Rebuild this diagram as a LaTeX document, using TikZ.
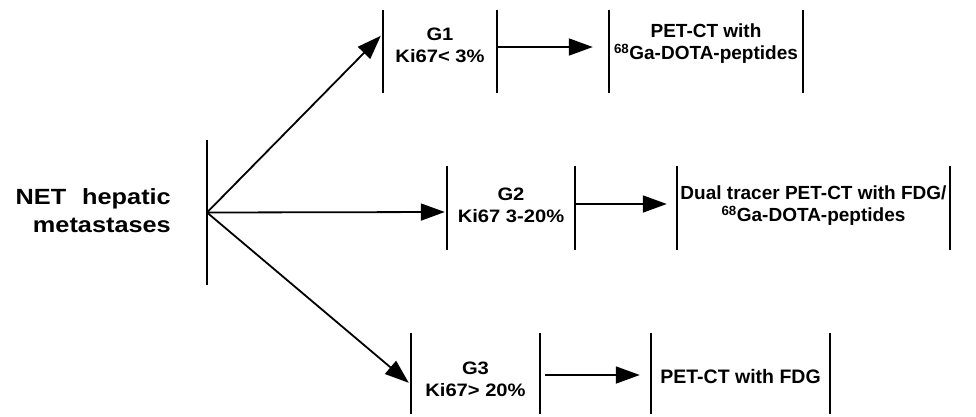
\documentclass[tikz,border=0pt]{standalone}
\usepackage{fontspec}
\setmainfont{Liberation Sans}
\newfontfamily\gfont{Liberation Sans}[FakeStretch=1.12]
\newfontfamily\nfont{Liberation Sans}[FakeStretch=1.15]
\usetikzlibrary{arrows.meta,calc}
\begin{document}
\begin{tikzpicture}[x=1pt,y=-1pt,
  bar/.style={line width=1.8pt},
  arr/.style={line width=1.8pt,-{Triangle[length=24pt,width=17pt]}},
  bx/.style={draw=none,inner sep=0pt,rectangle},
  gtext/.style={inner sep=0pt,align=center,font=\gfont\bfseries\fontsize{18}{22}\selectfont},
  ptext/.style={inner sep=0pt,align=center,font=\bfseries\fontsize{19}{22}\selectfont},
  ntext/.style={inner sep=0pt,align=right,font=\nfont\bfseries\fontsize{22}{28}\selectfont}]
\useasboundingbox (0,0) rectangle (976,416);
\fill[white] (0,0) rectangle (976,416);

% boxes
\node[bx,minimum width=0pt,minimum height=145pt] (root) at (207,212.5) {};
\node[bx,minimum width=114pt,minimum height=83pt] (g1) at (440,51.5) {};
\node[bx,minimum width=194pt,minimum height=83pt] (p1) at (706,51.5) {};
\node[bx,minimum width=128pt,minimum height=84pt] (g2) at (511,208) {};
\node[bx,minimum width=273pt,minimum height=84pt] (p2) at (813.5,208) {};
\node[bx,minimum width=129pt,minimum height=81pt] (g3) at (475.5,373.5) {};
\node[bx,minimum width=179pt,minimum height=81pt] (p3) at (740.5,373.5) {};

% bars
\foreach \n in {g1,p1,g2,p2,g3,p3}{
  \draw[bar] (\n.north west) -- (\n.south west);
  \draw[bar] (\n.north east) -- (\n.south east);
}
\draw[bar] (root.north) -- (root.south);

% texts
\node[ntext,anchor=east] (nett) at (171,211) {NET\hspace{16pt}hepatic\\metastases};
\node[gtext] (g1t) at ([yshift=6pt]g1.center) {G1\\Ki67< 3\%};
\node[gtext] (g2t) at ([yshift=3pt]g2.center) {G2\\Ki67 3-20\%};
\node[gtext] (g3t) at ([yshift=-6pt]g3.center) {G3\\Ki67> 20\%};
\node[ptext] (p1t) at ([yshift=8pt]p1.center) {PET-CT with\\\textsuperscript{68}Ga-DOTA-peptides};
\node[ptext] (p2t) at ([yshift=2pt]p2.center) {Dual tracer PET-CT with FDG/\\\textsuperscript{68}Ga-DOTA-peptides};
\node[ptext,font=\bfseries\fontsize{19.5}{22}\selectfont] (p3t) at ([yshift=-3.5pt]p3.center) {PET-CT with FDG};

% tip coordinates
\coordinate (t1) at ($(g1.north west)+(-2,26)$);
\coordinate (t2) at ($(g2.west)+(-2,4)$);
\coordinate (t3) at ($(g3.north west)+(-2,50)$);

% arrows from root
\draw[arr] (root.center) -- (t1);
\draw[arr] (root.center) -- (t2);
\draw[arr] (root.center) -- (t3);

% arrows between boxes
\draw[arr,shorten >=16pt] ([yshift=4.5pt]g1.east) -- ([yshift=4.5pt]g1.east -| p1.west);
\draw[arr,shorten >=10pt] ([yshift=4pt]g2.east) -- ([yshift=4pt]g2.east -| p2.west);
\draw[arr,shorten <=5pt,shorten >=11pt] ([yshift=-1.5pt]g3.east) -- ([yshift=-1.5pt]g3.east -| p3.west);
\end{tikzpicture}
\end{document}
